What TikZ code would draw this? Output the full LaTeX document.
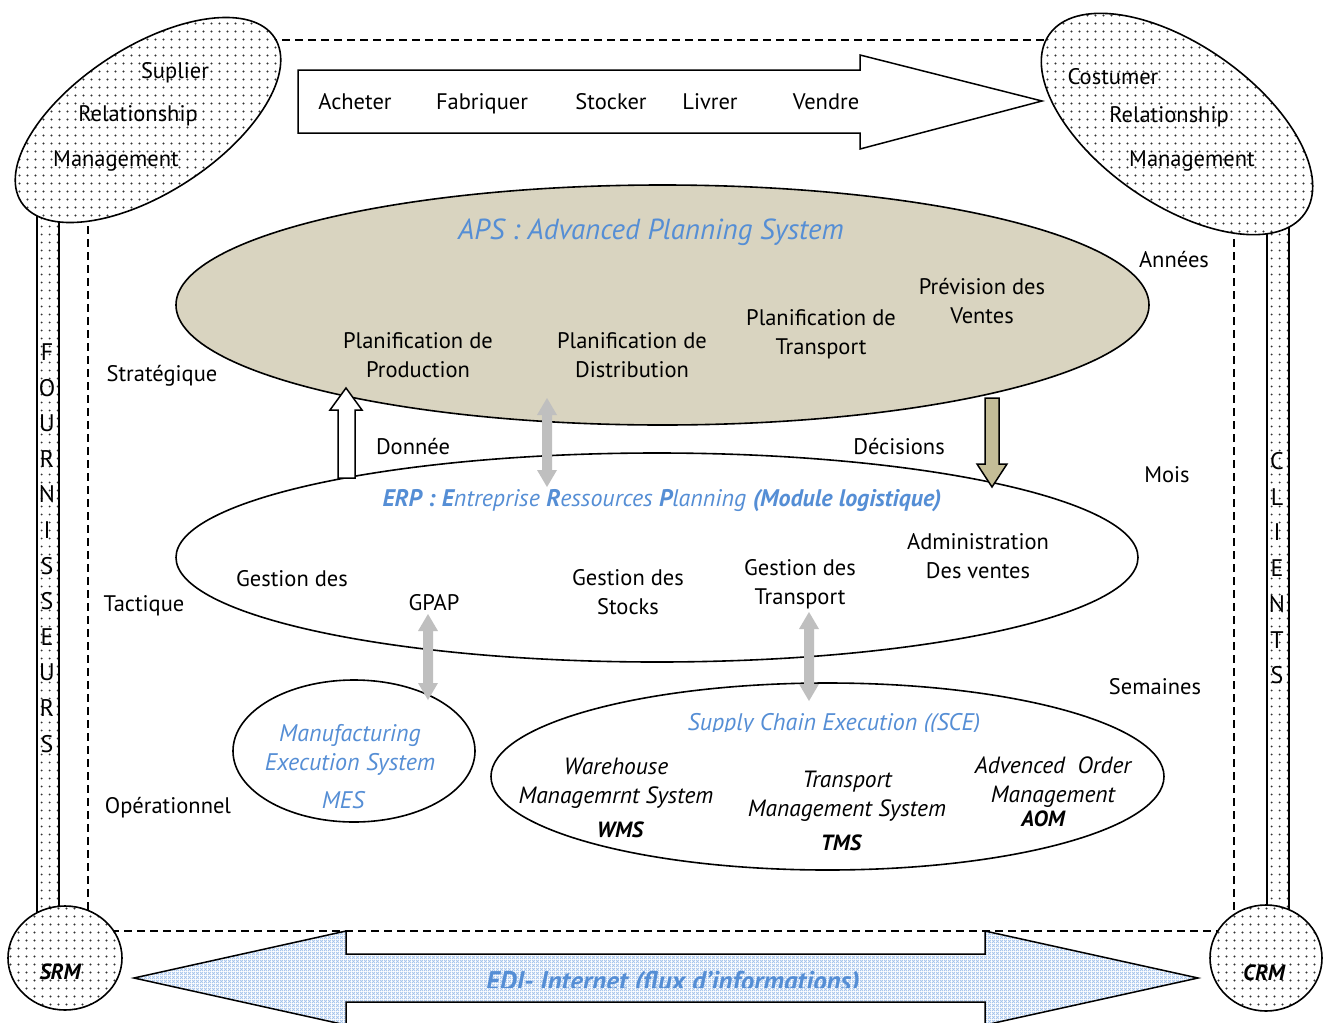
\documentclass[tikz,border=0pt]{standalone}
\usepackage{fontspec}
\setmainfont{PT Sans}
\usetikzlibrary{shapes.geometric,patterns,patterns.meta}

\definecolor{apsfill}{RGB}{217,212,192}
\definecolor{decarrow}{RGB}{196,189,151}
\definecolor{linkgray}{RGB}{191,191,191}
\definecolor{titleblue}{RGB}{85,142,213}
\definecolor{meshblue}{RGB}{165,196,236}

% sparse dot grid used for the CRM/SRM areas
\tikzdeclarepattern{
  name=sparsedots,
  type=uncolored,
  bounding box={(0pt,0pt) and (7.5pt,7.5pt)},
  tile size={(7.5pt,7.5pt)},
  code={\fill (3.75pt,3.75pt) circle (1.15pt);}
}
% fine diagonal mesh for the EDI arrow
\tikzdeclarepattern{
  name=finemesh,
  type=uncolored,
  bounding box={(0pt,0pt) and (4pt,4pt)},
  tile size={(4pt,4pt)},
  code={\draw[line width=0.9pt] (0pt,0pt) -- (4pt,4pt) (0pt,4pt) -- (4pt,0pt);}
}

\newcommand\vdblarrow[3]{%
  \fill[linkgray] (#1,#2) -- (#1+10,#2+17) -- (#1+5,#2+17) -- (#1+5,#3-17)
    -- (#1+10,#3-17) -- (#1,#3) -- (#1-10,#3-17) -- (#1-5,#3-17)
    -- (#1-5,#2+17) -- (#1-10,#2+17) -- cycle;}

\tikzset{
  every node/.style={inner sep=0pt, text height=20pt, text depth=3pt,
    font=\fontsize{22.5}{29}\selectfont},
  txt/.style={align=center},
  frame/.style={draw, line width=1.5pt},
  oval/.style={ellipse, draw, line width=1.6pt},
  dotarea/.style={preaction={fill=white}, pattern=sparsedots, pattern color=black!80},
  bluetitle/.style={text=titleblue, font=\fontsize{24}{29}\selectfont\itshape},
  sysname/.style={font=\fontsize{23.5}{29}\selectfont\itshape, align=center},
  abbr/.style={font=\fontsize{22}{29}\selectfont\itshape\bfseries},
  barletter/.style={font=\fontsize{24}{29}\selectfont, text height=17pt, text depth=0pt},
}

\begin{document}
\begin{tikzpicture}[x=1pt,y=-1pt]
\clip (0,0) rectangle (1323,1023);

% dashed boundary of the supply chain
\draw[dashed, dash pattern=on 8pt off 5pt, line width=1.4pt]
  (230,40) -- (1100,40)
  (88,200) -- (88,931) -- (1234,931) -- (1234,200);

% supplier and customer bars
\draw[frame, dotarea] (37,200) rectangle (59,920);
\draw[frame, dotarea] (1267,200) rectangle (1289,920);
\foreach \l [count=\i from 0] in {F,O,U,R,N,I,S,S,E,U,R,S}
  \node[barletter] (four\i) at (47,352+35.6*\i) {\l};
\foreach \l [count=\i from 0] in {C,L,I,E,N,T,S}
  \node[barletter] (cli\i) at (1277,461+35.7*\i) {\l};

% process arrow
\draw[frame, fill=white] (298,70) -- (860,70) -- (860,55) -- (1042,101)
  -- (860,149) -- (860,133) -- (298,133) -- cycle;
\node (acheter) at (355,101) {Acheter};
\node (fabriquer) at (482,101) {Fabriquer};
\node (stocker) at (611,101) {Stocker};
\node (livrer) at (710,101) {Livrer};
\node (vendre) at (826,101) {Vendre};

% relationship management areas
\node[oval, dotarea, minimum width=302pt, minimum height=146pt, rotate=33] (srmoval) at (148,120) {};
\node[oval, dotarea, minimum width=312pt, minimum height=159pt, rotate=-35] (crmoval) at (1177,124) {};
\node (sup1) at (175,70) {Suplier};
\node (sup2) at (138,113) {Relationship};
\node (sup3) at (116,158) {Management};
\node (cus1) at (1113,76) {Costumer};
\node (cus2) at (1169,114) {Relationship};
\node (cus3) at (1192,158) {Management};

\node[oval, dotarea, minimum width=114pt, minimum height=104pt] (srm) at (65,958) {};
\node[oval, dotarea, minimum width=112pt, minimum height=106pt] (crm) at (1266,958) {};
\node[abbr] (srmlbl) at (60,971) {SRM};
\node[abbr] (crmlbl) at (1264,972) {CRM};

% planning levels
\node[oval, fill=apsfill, minimum width=973pt, minimum height=240pt] (aps) at (662.5,305) {};
\node[oval, fill=white, minimum width=962pt, minimum height=209pt] (erp) at (657,557.5) {};
\node[oval, fill=white, minimum width=242pt, minimum height=142pt] (mesoval) at (354,751) {};
\node[oval, fill=white, minimum width=673pt, minimum height=187pt] (sce) at (827.5,776.5) {};

\node[text=titleblue, font=\fontsize{29}{32}\selectfont\itshape] (apstitle) at (651,231)
  {APS : Advanced Planning System};
\node[txt] (planprod) at (418,369) {Planification de\\Production};
\node[txt] (plandist) at (632,369) {Planification de\\Distribution};
\node[txt] (plantrans) at (821,346) {Planification de\\Transport};
\node[txt] (prevision) at (982,315) {Prévision des\\Ventes};

\node[bluetitle] (erptitle) at (662,498)
  {\textbf{ERP :} \textbf{E}ntreprise \textbf{R}essources \textbf{P}lanning \textbf{(Module logistique)}};
\node (gestdes) at (292,578) {Gestion des};
\node (gpap) at (434,602) {GPAP};
\node[txt] (geststocks) at (628,606) {Gestion des\\Stocks};
\node[txt] (gesttrans) at (800,596) {Gestion des\\Transport};
\node[txt] (admin) at (978,570) {Administration\\Des ventes};

\node[bluetitle, align=center] (mestext) at (350,762) {Manufacturing\\Execution System};
\node[bluetitle] (meslbl) at (343,800) {MES};

\begin{scope}
  \clip (600,690) rectangle (1100,731);
  \node[bluetitle] (scetitle) at (834,722) {Supply Chain Execution ((SCE)};
\end{scope}
\node[sysname] (wmstext) at (616,795) {Warehouse\\Managemrnt System};
\node[abbr] (wms) at (620,829) {WMS};
\node[sysname] (tmstext) at (847,808) {Transport\\Management System};
\node[abbr] (tms) at (841,842) {TMS};
\node[sysname] (aomtext) at (1053,794) {Advenced\ \ Order\\Management};
\node[abbr] (aom) at (1043,818) {AOM};

% level labels
\node (strat) at (162,373) {Stratégique};
\node (tact) at (144,603) {Tactique};
\node (oper) at (168,805) {Opérationnel};
\node (annees) at (1174,259) {Années};
\node (mois) at (1167,474) {Mois};
\node (semaines) at (1155,686) {Semaines};
\node (donnee) at (413,446) {Donnée};
\node (decisions) at (899,446) {Décisions};

% data flowing up, decisions flowing down
\draw[line width=1.5pt, fill=white] (346,388) -- (362,410) -- (355,410) -- (355,478)
  -- (338,478) -- (338,410) -- (330,410) -- cycle;
\draw[line width=1.5pt, fill=decarrow] (985,398) -- (999,398) -- (999,464) -- (1007,464)
  -- (992,487) -- (977,464) -- (985,464) -- cycle;

% links between systems
\vdblarrow{547}{398}{487}
\vdblarrow{428}{614}{700}
\vdblarrow{809}{612}{701}

% EDI exchange arrow
\draw[line width=1.5pt, preaction={fill=white}, pattern=finemesh, pattern color=meshblue]
  (134,978) -- (346,931) -- (346,954) -- (985,954) -- (985,931) -- (1198,978)
  -- (985,1025) -- (985,1002) -- (346,1002) -- (346,1025) -- cycle;
\begin{scope}
  \clip (400,950) rectangle (950,987);
  \node[text=titleblue, font=\fontsize{27}{29}\selectfont\itshape\bfseries] (edi) at (673,982)
    {EDI- Internet (flux d'informations)};
\end{scope}
\end{tikzpicture}
\end{document}
